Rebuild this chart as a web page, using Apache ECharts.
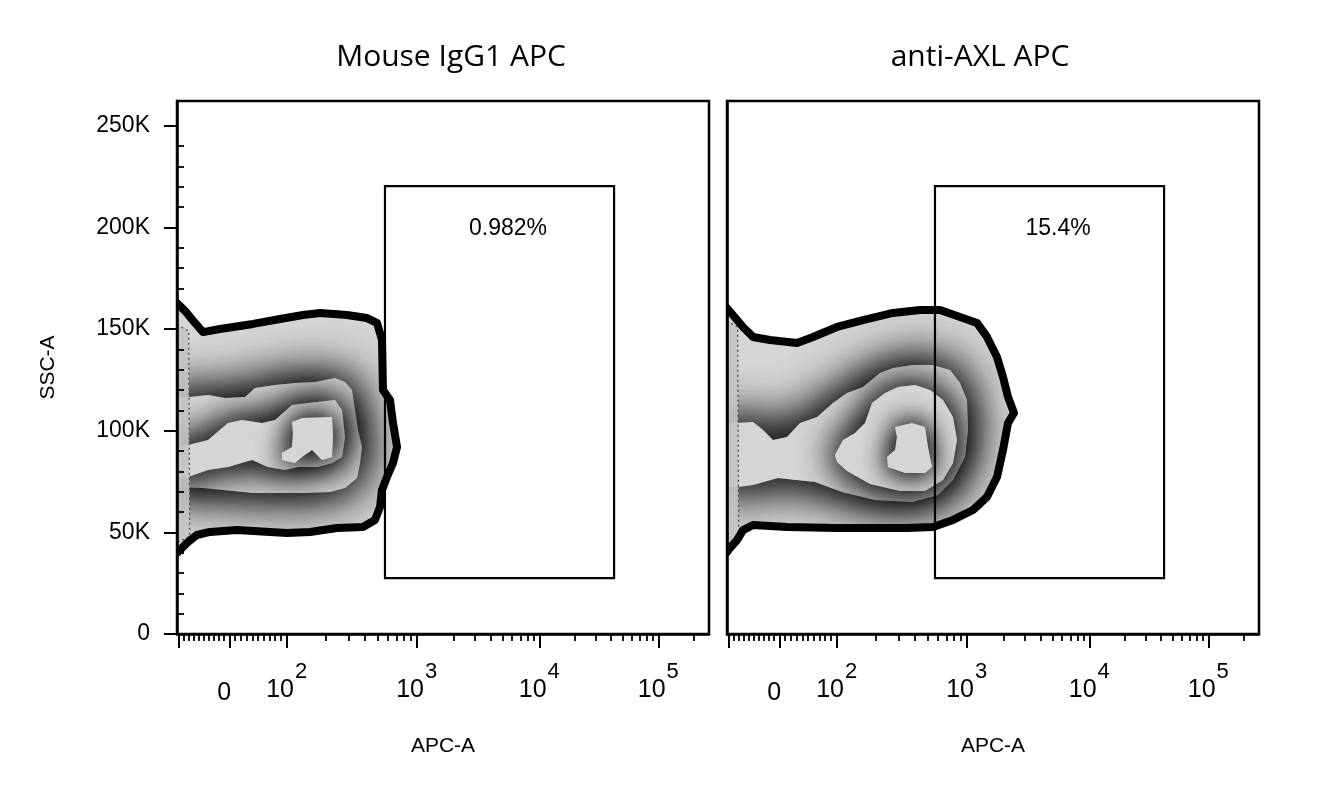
<!DOCTYPE html>
<html>
<head>
<meta charset="utf-8">
<script src="https://cdn.jsdelivr.net/npm/echarts@6.0.0/dist/echarts.min.js"></script>
<style>
html,body{margin:0;padding:0;background:#fff;}
#chart{width:1325px;height:796px;}
</style>
</head>
<body>
<div id="chart"></div>
<script>
// ---------- data ----------
const panelTitles = ['Mouse IgG1 APC', 'anti-AXL APC'];
const gatePercents = ['0.982%', '15.4%'];
// gate in APC (x) and SSC-A in thousands (y)
const gateAPC = [570, 42500];
const gateSSC = [27.5, 220.3];
const pctLabelAPC = 5560;
const pctLabelSSC = 199.2;

// x-axis tick values (APC units)
const xMajorTicks = [-100, 0, 100, 1000, 10000, 100000];
const xLabelValues = [0, 100, 1000, 10000, 100000];
const xLabelExponents = [null, 2, 3, 4, 5];
const xMinorTicks = [-90, -80, -70, -60, -50, -40, -30, -20, -10,
  10, 20, 30, 40, 50, 60, 70, 80, 90,
  200, 300, 400, 500, 600, 700, 800, 900,
  2000, 3000, 4000, 5000, 6000, 7000, 8000, 9000,
  20000, 30000, 40000, 50000, 60000, 70000, 80000, 90000, 200000];
// y-axis (SSC-A, thousands)
const yMax = 262.144;
const yMajorTicks = [0, 50, 100, 150, 200, 250];
const yMinorTicks = [10, 20, 30, 40, 60, 70, 80, 90, 110, 120, 130, 140, 160, 170, 180, 190, 210, 220, 230, 240];

// contour levels, x in display channel (0-1000), y in SSC-A thousands
const igg1Level1 = [[0,162.8],[16.9,158.4],[33.8,153.0],[48.9,148.5],[80.8,150.0],[142.9,152.5],[193.6,154.9],[236.8,156.9],[268.8,157.9],[319.5,156.9],[357.1,155.4],[375.9,153.0],[385.3,144.6],[387.2,120.0],[400.4,115.1],[406.0,103.8],[413.6,92.0],[406.0,84.1],[394.7,77.2],[385.3,70.8],[381.6,62.5],[372.2,56.1],[349.6,52.6],[300.8,52.1],[250.0,50.2],[206.8,49.7],[174.8,50.2],[112.8,51.1],[62.0,50.2],[37.6,48.7],[18.8,44.8],[5.6,41.3],[0,39.8],[-20,39.8],[-20,162.8]];
const igg1Level2 = [[-40,116.1],[0,116.1],[24.4,116.6],[58.3,117.5],[90.2,116.1],[127.8,116.6],[146.6,121.0],[184.2,122.5],[221.8,123.4],[259.4,123.9],[297.0,125.9],[315.8,123.9],[328.9,120.0],[334.6,110.2],[340.2,100.3],[347.7,92.0],[344.0,84.1],[338.3,76.7],[315.8,71.8],[287.6,69.8],[235.0,69.3],[142.9,69.3],[48.9,71.8],[0,72.3],[-40,72.3]];
const igg1Level3 = [[-40,92.5],[0,92.5],[20.7,93.0],[58.3,95.4],[95.9,103.8],[122.2,105.2],[159.8,103.8],[184.2,105.2],[216.2,112.6],[246.2,113.6],[297.0,115.1],[310.2,110.2],[315.8,96.9],[310.2,87.1],[291.4,84.1],[265.0,82.1],[227.4,82.1],[203.0,80.7],[171.1,82.1],[141.0,85.6],[95.9,82.1],[58.3,80.7],[20.7,77.2],[0,76.7],[-40,76.7]];
const igg1Level4 = [[216.2,104.3],[235.0,106.2],[291.4,106.7],[293.2,96.9],[291.4,87.1],[272.6,85.6],[253.8,90.5],[235.0,87.1],[221.8,84.1],[197.4,85.6],[197.4,89.0],[216.2,92.0],[218.0,98.9]];
const igg1Edge = [[0,152],[22,149],[24,48],[0,45]];

const axlLevel1 = [[0,160.3],[30.1,151.0],[48.9,146.1],[80.8,144.6],[131.6,143.1],[161.7,146.1],[206.8,151.0],[255.6,154.4],[312.0,157.9],[362.8,159.4],[400.4,159.4],[438.0,155.9],[469.9,153.0],[488.7,146.1],[507.5,136.2],[518.8,126.4],[528.2,116.6],[539.5,108.7],[528.2,103.8],[518.8,90.5],[507.5,77.2],[488.7,67.4],[462.4,61.0],[424.8,56.1],[387.2,52.6],[338.3,52.1],[268.8,52.1],[206.8,52.1],[112.8,52.6],[48.9,53.6],[30.1,51.1],[18.8,46.2],[5.6,42.3],[0,40.3],[-20,40.3],[-20,160.3]];
const axlLevel2 = [[-40,103.3],[0,103.3],[18.8,103.8],[48.9,104.3],[67.7,100.3],[86.5,95.4],[112.8,96.9],[137.2,103.8],[169.2,106.7],[199.2,113.6],[225.6,118.5],[255.6,121.5],[287.6,128.4],[312.0,130.8],[349.6,132.3],[387.2,132.3],[419.2,129.8],[438.0,123.4],[451.1,115.1],[453.0,100.3],[447.4,87.1],[424.8,75.7],[396.6,68.4],[347.7,64.9],[278.2,65.9],[216.2,69.8],[165.4,74.8],[95.9,76.7],[48.9,73.3],[20.7,72.3],[0,72.3],[-40,72.3]];
const axlLevel3 = [[203.0,88.0],[218.0,95.4],[240.6,98.9],[259.4,103.8],[272.6,113.6],[297.0,118.5],[321.4,121.5],[353.4,122.5],[381.6,120.0],[406.0,115.1],[424.8,106.7],[432.3,95.4],[424.8,84.1],[406.0,75.7],[372.2,70.3],[325.2,70.3],[268.8,73.8],[225.6,80.2],[206.8,84.6]];
const axlLevel4 = [[315.8,101.8],[347.7,103.8],[372.2,101.8],[377.8,92.0],[385.3,82.1],[372.2,79.2],[334.6,79.2],[302.6,82.1],[300.8,87.1],[315.8,90.5],[319.5,96.9]];
const axlEdge = [[0,154],[20,151],[22,47],[0,44]];

// ---------- display transform (biexponential-like APC scale -> channel) ----------
const ZERO_CH = 98.3;
const decadeAnchors = [[2, 206.2], [3, 450.6], [4, 681.0], [5, 904.7]];
function toDisp(v) {
  if (v < 0) return ZERO_CH + v * 0.959;
  if (v < 100) return ZERO_CH + v * (206.2 - ZERO_CH) / 100;
  const d = Math.log10(v);
  for (let i = 0; i < decadeAnchors.length - 1; i++) {
    const a = decadeAnchors[i], b = decadeAnchors[i + 1];
    if (d <= b[0]) return a[1] + (d - a[0]) * (b[1] - a[1]);
  }
  const last = decadeAnchors[decadeAnchors.length - 1];
  return last[1] + (d - last[0]) * 223.7;
}

const FONT = 'Liberation Sans, Arial, sans-serif';
const FILL = '#d5d5d5';
const HALO_BLUR = [0, 50, 38, 28];
const HALO_COPIES = 2;

function labelFormatter(val) {
  for (let i = 0; i < xLabelValues.length; i++) {
    if (Math.abs(toDisp(xLabelValues[i]) - val) < 0.01) {
      const e = xLabelExponents[i];
      return e == null ? '{z|0}' : '{b|10}{s|' + e + '}';
    }
  }
  return '';
}

const grids = [
  {left: 177, top: 101, width: 532, height: 533},
  {left: 727, top: 101, width: 532, height: 533}
];
const titleCenters = [451, 980];

const AX_Z = 3;
const xAxes = [], yAxes = [];
grids.forEach((g, gi) => {
  xAxes.push({
    type: 'value', gridIndex: gi, min: 0, max: 1000, position: 'bottom', zlevel: AX_Z,
    name: 'APC-A', nameLocation: 'middle', nameGap: 102,
    nameTextStyle: {fontSize: 21, fontFamily: FONT, color: '#000'},
    axisLine: {show: true, onZero: false, lineStyle: {color: '#000', width: 2.5}},
    axisTick: {show: true, customValues: xMajorTicks.map(toDisp), length: 14, lineStyle: {color: '#000', width: 2}},
    axisLabel: {show: true, customValues: xLabelValues.map(toDisp), margin: 27, formatter: labelFormatter,
      color: '#000',
      rich: {
        b: {fontSize: 25, fontFamily: FONT, color: '#000', verticalAlign: 'bottom'},
        s: {fontSize: 22, fontFamily: FONT, color: '#000', padding: [0, 0, 20, 1]},
        z: {fontSize: 25, fontFamily: FONT, color: '#000', padding: [20, 10, 0, 0]}
      }},
    splitLine: {show: false}
  });
  xAxes.push({
    type: 'value', gridIndex: gi, min: 0, max: 1000, position: 'bottom', zlevel: AX_Z,
    axisLine: {show: false},
    axisTick: {show: true, customValues: xMinorTicks.map(toDisp), length: 7, lineStyle: {color: '#000', width: 1.8}},
    axisLabel: {show: false},
    splitLine: {show: false}
  });
  yAxes.push({
    type: 'value', gridIndex: gi, min: 0, max: yMax, zlevel: AX_Z,
    name: gi === 0 ? 'SSC-A' : '', nameLocation: 'middle', nameGap: 118, nameRotate: 90,
    nameTextStyle: {fontSize: 21, fontFamily: FONT, color: '#000'},
    axisLine: {show: true, lineStyle: {color: '#000', width: 2.5}},
    axisTick: {show: gi === 0, customValues: yMajorTicks, length: 13, lineStyle: {color: '#000', width: 2}},
    axisLabel: {show: gi === 0, customValues: yMajorTicks, margin: 27, fontSize: 23, fontFamily: FONT, color: '#000',
      formatter: v => v === 0 ? '0' : v + 'K'},
    splitLine: {show: false}
  });
  if (gi === 0) {
    yAxes.push({
      type: 'value', gridIndex: gi, min: 0, max: yMax, zlevel: AX_Z,
      axisLine: {show: false},
      axisTick: {show: true, customValues: yMinorTicks, length: 7, lineStyle: {color: '#000', width: 1.8}},
      axisLabel: {show: false},
      splitLine: {show: false}
    });
  }
});
const yIndexOfGrid = [0, 2];

function signedArea(pts) {
  let a = 0;
  for (let i = 0; i < pts.length; i++) {
    const p = pts[i], q = pts[(i + 1) % pts.length];
    a += p[0] * q[1] - q[0] * p[1];
  }
  return a / 2;
}

function contourSeries(levels, edge, gi) {
  // order: level1 fill, inner level halos, edge strip, white mask outside level1, level1 outline
  const items = [];
  levels.forEach((pts, li) => items.push({kind: li === 0 ? 'base' : 'halo', level: li, pts}));
  items.push({kind: 'edge', pts: edge});
  items.push({kind: 'mask', pts: levels[0]});
  items.push({kind: 'outline', pts: levels[0]});
  return {
    type: 'custom', xAxisIndex: gi * 2, yAxisIndex: yIndexOfGrid[gi], clip: true, silent: true, zlevel: 1,
    data: items.map((_, i) => [i]),
    renderItem: (params, api) => {
      const it = items[params.dataIndex];
      let pts = it.pts.map(p => api.coord(p));
      if (it.kind === 'base') {
        return {type: 'polygon', shape: {points: pts}, style: {fill: FILL}};
      }
      if (it.kind === 'outline') {
        return {type: 'polygon', shape: {points: pts},
          style: {fill: 'none', stroke: '#000', lineWidth: 8, lineJoin: 'round'}};
      }
      if (it.kind === 'edge') {
        return {type: 'polygon', shape: {points: pts},
          style: {fill: 'rgba(195,195,195,0.9)', stroke: '#444', lineWidth: 1.2, lineDash: [2, 3]}};
      }
      if (it.kind === 'mask') {
        const bl = api.coord([-80, -60]);
        const tr = api.coord([1100, 340]);
        const rect = [[bl[0], bl[1]], [bl[0], tr[1]], [tr[0], tr[1]], [tr[0], bl[1]]];
        if (Math.sign(signedArea(rect)) === Math.sign(signedArea(pts))) pts = pts.slice().reverse();
        let best = 0, bd = Infinity;
        pts.forEach((p, i) => {
          const d = (p[0] - bl[0]) ** 2 + (p[1] - bl[1]) ** 2;
          if (d < bd) { bd = d; best = i; }
        });
        const hole = pts.slice(best).concat(pts.slice(0, best));
        hole.push(hole[0]);
        const all = rect.concat([rect[0]]).concat(hole);
        return {type: 'polygon', shape: {points: all}, style: {fill: '#fff'}};
      }
      const children = [];
      for (let k = 0; k < HALO_COPIES; k++) {
        children.push({type: 'polygon', shape: {points: pts},
          style: {fill: FILL, shadowBlur: HALO_BLUR[it.level], shadowColor: 'rgba(0,0,0,0.9)'}});
      }
      return {type: 'group', children};
    }
  };
}

function gateSeries(gi) {
  return {
    type: 'custom', xAxisIndex: gi * 2, yAxisIndex: yIndexOfGrid[gi], clip: false, silent: true, zlevel: 4,
    data: [[gateAPC[0], gateAPC[1], gateSSC[0], gateSSC[1]]],
    renderItem: (params, api) => {
      const p1 = api.coord([toDisp(gateAPC[0]), gateSSC[1]]);
      const p2 = api.coord([toDisp(gateAPC[1]), gateSSC[0]]);
      const pt = api.coord([toDisp(pctLabelAPC), pctLabelSSC]);
      return {type: 'group', children: [
        {type: 'rect', shape: {x: p1[0], y: p1[1], width: p2[0] - p1[0], height: p2[1] - p1[1]},
          style: {fill: 'none', stroke: '#000', lineWidth: 2.2}},
        {type: 'text', x: pt[0], y: pt[1],
          style: {text: gatePercents[gi], fontSize: 23, fontFamily: FONT, fill: '#000', align: 'center', verticalAlign: 'middle'}}
      ]};
    }
  };
}

const option = {
  animation: false,
  backgroundColor: '#fff',
  grid: grids.map(g => Object.assign({show: true, borderColor: '#000', borderWidth: 2.5, backgroundColor: 'transparent', zlevel: AX_Z}, g)),
  xAxis: xAxes,
  yAxis: yAxes,
  graphic: panelTitles.map((t, i) => ({
    type: 'text', x: titleCenters[i], y: 57,
    style: {text: t, fontSize: 30, fontFamily: 'Open Sans, Noto Sans, sans-serif', fill: '#000', align: 'center', verticalAlign: 'middle'}
  })),
  series: [
    contourSeries([igg1Level1, igg1Level2, igg1Level3, igg1Level4], igg1Edge, 0),
    contourSeries([axlLevel1, axlLevel2, axlLevel3, axlLevel4], axlEdge, 1),
    gateSeries(0),
    gateSeries(1)
  ]
};

const chart = echarts.init(document.getElementById('chart'));
chart.setOption(option);
</script>
</body>
</html>
